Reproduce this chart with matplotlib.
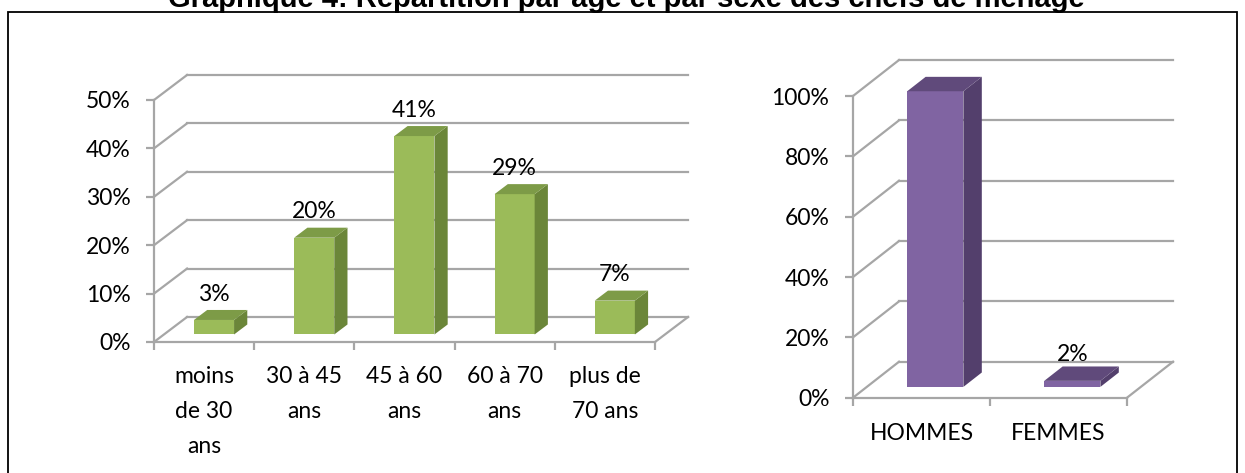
import matplotlib
matplotlib.use("Agg")
import matplotlib.pyplot as plt
from matplotlib.patches import Polygon, Rectangle

# Données
age_labels = ["moins\nde 30\nans", "30 à 45\nans", "45 à 60\nans", "60 à 70\nans", "plus de\n70 ans"]
age_values = [3, 20, 41, 29, 7]
sex_labels = ["HOMMES", "FEMMES"]
sex_values = [98, 2]

title = "Graphique 4: Répartition par âge et par sexe des chefs de ménage"

plt.rcParams["font.family"] = ["Lato", "DejaVu Sans"]
FS = 16.5
GRID = "#a6a6a6"


def walls(ax, n, vmax, step, dx, dy):
    # lignes du fond, mur gauche et plancher (effet 3D)
    for v in range(0, vmax + 1, step):
        ax.plot([dx, n + dx], [v + dy, v + dy], color=GRID, lw=1.6, clip_on=False, zorder=1)
        ax.plot([0, dx], [v, v + dy], color=GRID, lw=1.6, clip_on=False, zorder=1)
    ax.plot([n, n + dx], [0, dy], color=GRID, lw=1.6, clip_on=False, zorder=1)


def bars3d(ax, values, dx, dy, front, side, top, w=0.4, f0=0.3, f1=0.7):
    ddx = (f1 - f0) * dx
    ddy = (f1 - f0) * dy
    for i, v in enumerate(values):
        xl = i + 0.5 - w / 2 + f0 * dx
        xr = xl + w
        yb = f0 * dy
        yt = yb + v
        ax.add_patch(Polygon([(xl, yb), (xr, yb), (xr, yt), (xl, yt)],
                             fc=front, ec="none", clip_on=False, zorder=3))
        ax.add_patch(Polygon([(xr, yb), (xr + ddx, yb + ddy), (xr + ddx, yt + ddy), (xr, yt)],
                             fc=side, ec="none", clip_on=False, zorder=3))
        ax.add_patch(Polygon([(xl, yt), (xr, yt), (xr + ddx, yt + ddy), (xl + ddx, yt + ddy)],
                             fc=top, ec="none", clip_on=False, zorder=3))
        ax.annotate(f"{v}%", ((xl + xr) / 2, yt), xytext=(0, 14), textcoords="offset points",
                    ha="center", va="baseline", fontsize=FS, zorder=4)


def style(ax, n, vmax, step, labels, xpad):
    ax.set_xlim(0, n)
    ax.set_ylim(0, vmax)
    for s in ["top", "right"]:
        ax.spines[s].set_visible(False)
    for s in ["left", "bottom"]:
        ax.spines[s].set_color(GRID)
        ax.spines[s].set_linewidth(1.6)
    ax.set_yticks(range(0, vmax + 1, step))
    ax.set_yticklabels([f"{v}%" for v in range(0, vmax + 1, step)], fontsize=FS)
    ax.set_xticks(range(n + 1))
    ax.set_xticklabels([])
    ax.set_xticks([i + 0.5 for i in range(n)], minor=True)
    ax.set_xticklabels(labels, minor=True, fontsize=FS, linespacing=1.8)
    ax.tick_params(axis="both", which="major", color=GRID, width=1.6, length=6)
    ax.tick_params(axis="y", pad=11)
    ax.tick_params(axis="x", which="minor", length=0, pad=xpad)
    ax.patch.set_visible(False)


fig = plt.figure(figsize=(12.45, 4.73), dpi=100)

# Graphique par âge
ax1 = fig.add_axes([154 / 1245, 131 / 473, 501 / 1245, 242 / 473])
style(ax1, 5, 50, 10, age_labels, 17.5)
walls(ax1, 5, 50, 10, 0.33, 5.17)
bars3d(ax1, age_values, 0.33, 5.17, "#9bbb59", "#6b8639", "#7d9b47")

# Graphique par sexe
ax2 = fig.add_axes([853 / 1245, 75.3 / 473, 274 / 1245, 301.7 / 473])
style(ax2, 2, 100, 20, sex_labels, 18.5)
walls(ax2, 2, 100, 20, 0.336, 11.93)
bars3d(ax2, sex_values, 0.336, 11.93, "#8064a2", "#533f6c", "#604a7b", w=0.41)

# Cadre et titre (coupé en haut)
fig.add_artist(Rectangle((8 / 1245, -0.1), 1229 / 1245, 1.1 - 12 / 473, transform=fig.transFigure,
                         fill=False, ec="black", lw=1.3))
fig.text(0.503, 1 - 7 / 473, title, ha="center", va="baseline", fontsize=21,
         fontweight="bold", family="Liberation Sans")

fig.savefig("out.png", dpi=100)
